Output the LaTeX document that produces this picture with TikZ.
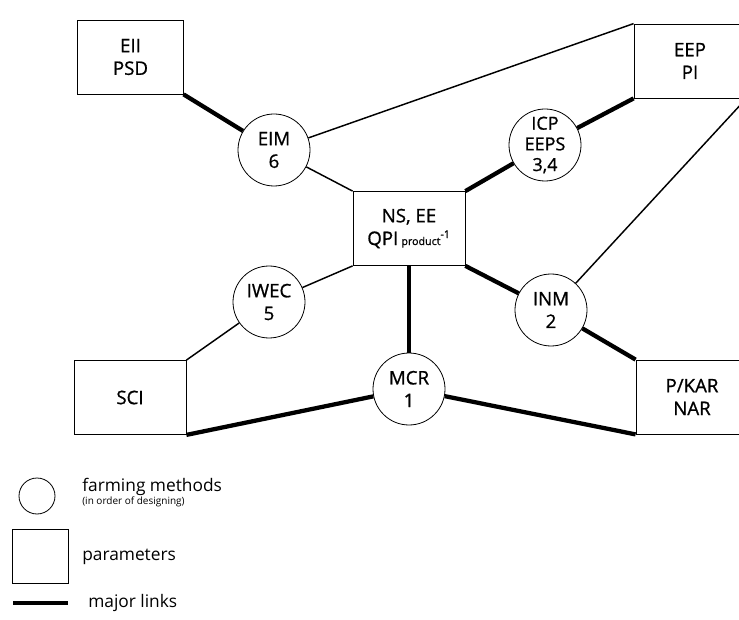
\documentclass[tikz,border=0pt]{standalone}
\usepackage{fontspec}
\setmainfont{Open Sans}
\newfontfamily\lblfont[FakeBold=0.9]{Open Sans}
\def\linkw{1.1pt}
\def\majorw{3.2pt}
\newcommand{\lbl}{\lblfont\fontsize{14}{17}\selectfont}
\newcommand{\smalllbl}{\fontsize{8}{9}\selectfont}

\begin{document}
\begin{tikzpicture}[x=0.75pt,y=-0.75pt,
  meth/.style={draw,circle,line width=0.6pt,minimum size=54pt,inner sep=0pt,align=center,font=\lbl},
  parbox/.style={draw,rectangle,line width=0.6pt,minimum width=84pt,minimum height=55.5pt,inner sep=0pt,align=center,font=\lbl},
  link/.style={line width=\linkw},
  major/.style={line width=\majorw},
  legtext/.style={anchor=west,inner sep=0pt,font=\fontsize{13}{15}\selectfont}]
\clip (0,0) rectangle (739,620);
\node[parbox,minimum width=79pt] (eii) at (130.5,57) {EII\\PSD};
\node[parbox] (eep) at (690,61) {EEP\\PI};
\node[parbox] (ns) at (409,228.5) {NS, EE\\QPI\,{\smalllbl product}\textsuperscript{\smalllbl -1}};
\node[parbox] (sci) at (130,397.5) {SCI};
\node[parbox] (pkar) at (692,397) {P/KAR\\NAR};
\node[meth] (eim) at (274,150) {EIM\\6};
\node[meth,font=\lblfont\fontsize{13.5}{15.5}\selectfont] (icp) at (545,145) {ICP\\EEPS\\3,4};
\node[meth] (inm) at (551,310) {INM\\2};
\node[meth] (mcr) at (409,389) {MCR\\1};
\node[meth] (iwec) at (269,302) {IWEC\\5};
\draw[major] (eii.south east) -- (eim);
\draw[link] (eim) -- (eep.north west);
\draw[link] (eim) -- (ns.north west);
\draw[major] (ns.north east) -- (icp);
\draw[major] (icp) -- (eep.south west);
\draw[link] (eep.south east) -- (inm);
\draw[major] (ns.south east) -- (inm);
\draw[major] (inm) -- (pkar.north west);
\draw[major] (ns.south) -- (mcr);
\draw[major] (mcr) -- (pkar.south west);
\draw[major] (sci.south east) -- (mcr);
\draw[link] (ns.south west) -- (iwec);
\draw[link] (iwec) -- (sci.north east);
\node[draw,circle,line width=0.6pt,minimum size=27pt,inner sep=0pt] (legm) at (37,496) {};
\node[legtext] (legmt) at (82,487) {farming methods};
\node[legtext,font=\fontsize{7.5}{9}\selectfont] (legmn) at (82,502) {(in order of designing)};
\node[draw,rectangle,line width=0.6pt,minimum width=42pt,minimum height=40.5pt,inner sep=0pt] (legp) at (40,556) {};
\node[legtext] (legpt) at (82,557) {parameters};
\coordinate (lega) at (13,603);
\coordinate (legb) at (68,603);
\draw[major] (lega) -- (legb);
\node[legtext] (leglt) at (88,603) {major links};
\end{tikzpicture}
\end{document}
